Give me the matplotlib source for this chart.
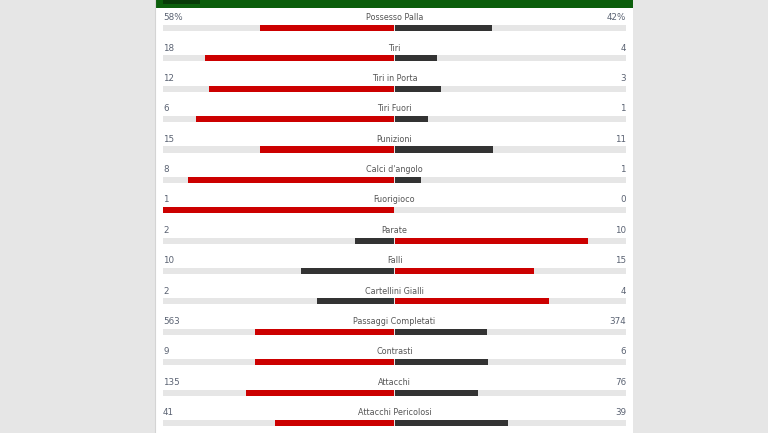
import matplotlib
matplotlib.use("Agg")
import matplotlib.pyplot as plt

# Match statistics (home vs away).
labels = [
    "Possesso Palla", "Tiri", "Tiri in Porta", "Tiri Fuori", "Punizioni",
    "Calci d'angolo", "Fuorigioco", "Parate", "Falli", "Cartellini Gialli",
    "Passaggi Completati", "Contrasti", "Attacchi", "Attacchi Pericolosi",
]
home = [58, 18, 12, 6, 15, 8, 1, 2, 10, 2, 563, 9, 135, 41]
away = [42, 4, 3, 1, 11, 1, 0, 10, 15, 4, 374, 6, 76, 39]
home_text = ["58%"] + [str(v) for v in home[1:]]
away_text = ["42%"] + [str(v) for v in away[1:]]

RED = "#cc0000"
DARK = "#333333"
TRACK = "#e6e6e6"

fig = plt.figure(figsize=(7.68, 4.33), dpi=100, facecolor="#e6e6e6")
# White panel holding the stats, in pixel-derived figure fractions.
ax = fig.add_axes([155 / 768, 0, 478 / 768, 1], facecolor="white")
ax.set_xlim(-1.0346, 1.0302)
ax.set_ylim(13.331, -0.9217)
ax.set_xticks([])
ax.set_yticks([])
for side in ["top", "right", "bottom"]:
    ax.spines[side].set_visible(False)
ax.spines["left"].set_color("#d4d4d4")
ax.spines["left"].set_linewidth(0.8)

# Green header strip.
ax.axhspan(-0.9217, -0.6583, color="#0b5e0b", lw=0)
ax.fill_between([-1, -0.840], -0.9217, -0.7901, color="#073a07", lw=0)

h = 0.2
gap = 0.002
for i, (lab, a, b) in enumerate(zip(labels, home, away)):
    total = a + b
    fa = a / total if total else 0
    fb = b / total if total else 0
    ax.barh(i, 2, left=-1, height=h, color=TRACK, lw=0)
    ca, cb = (RED, DARK) if a >= b else (DARK, RED)
    if fa > 0:
        ax.barh(i, -fa, left=-gap, height=h, color=ca, lw=0)
    if fb > 0:
        ax.barh(i, fb, left=gap, height=h, color=cb, lw=0)
    ty = i - 0.34
    ax.text(-1, ty, home_text[i], ha="left", va="center", fontsize=6.3,
            color="#5a6272", family="DejaVu Sans")
    ax.text(1, ty, away_text[i], ha="right", va="center", fontsize=6.3,
            color="#5a6272", family="DejaVu Sans")
    ax.text(0, ty, lab, ha="center", va="center", fontsize=5.8,
            color="#555555", family="DejaVu Sans")

fig.savefig("out.png", dpi=100, facecolor=fig.get_facecolor())
